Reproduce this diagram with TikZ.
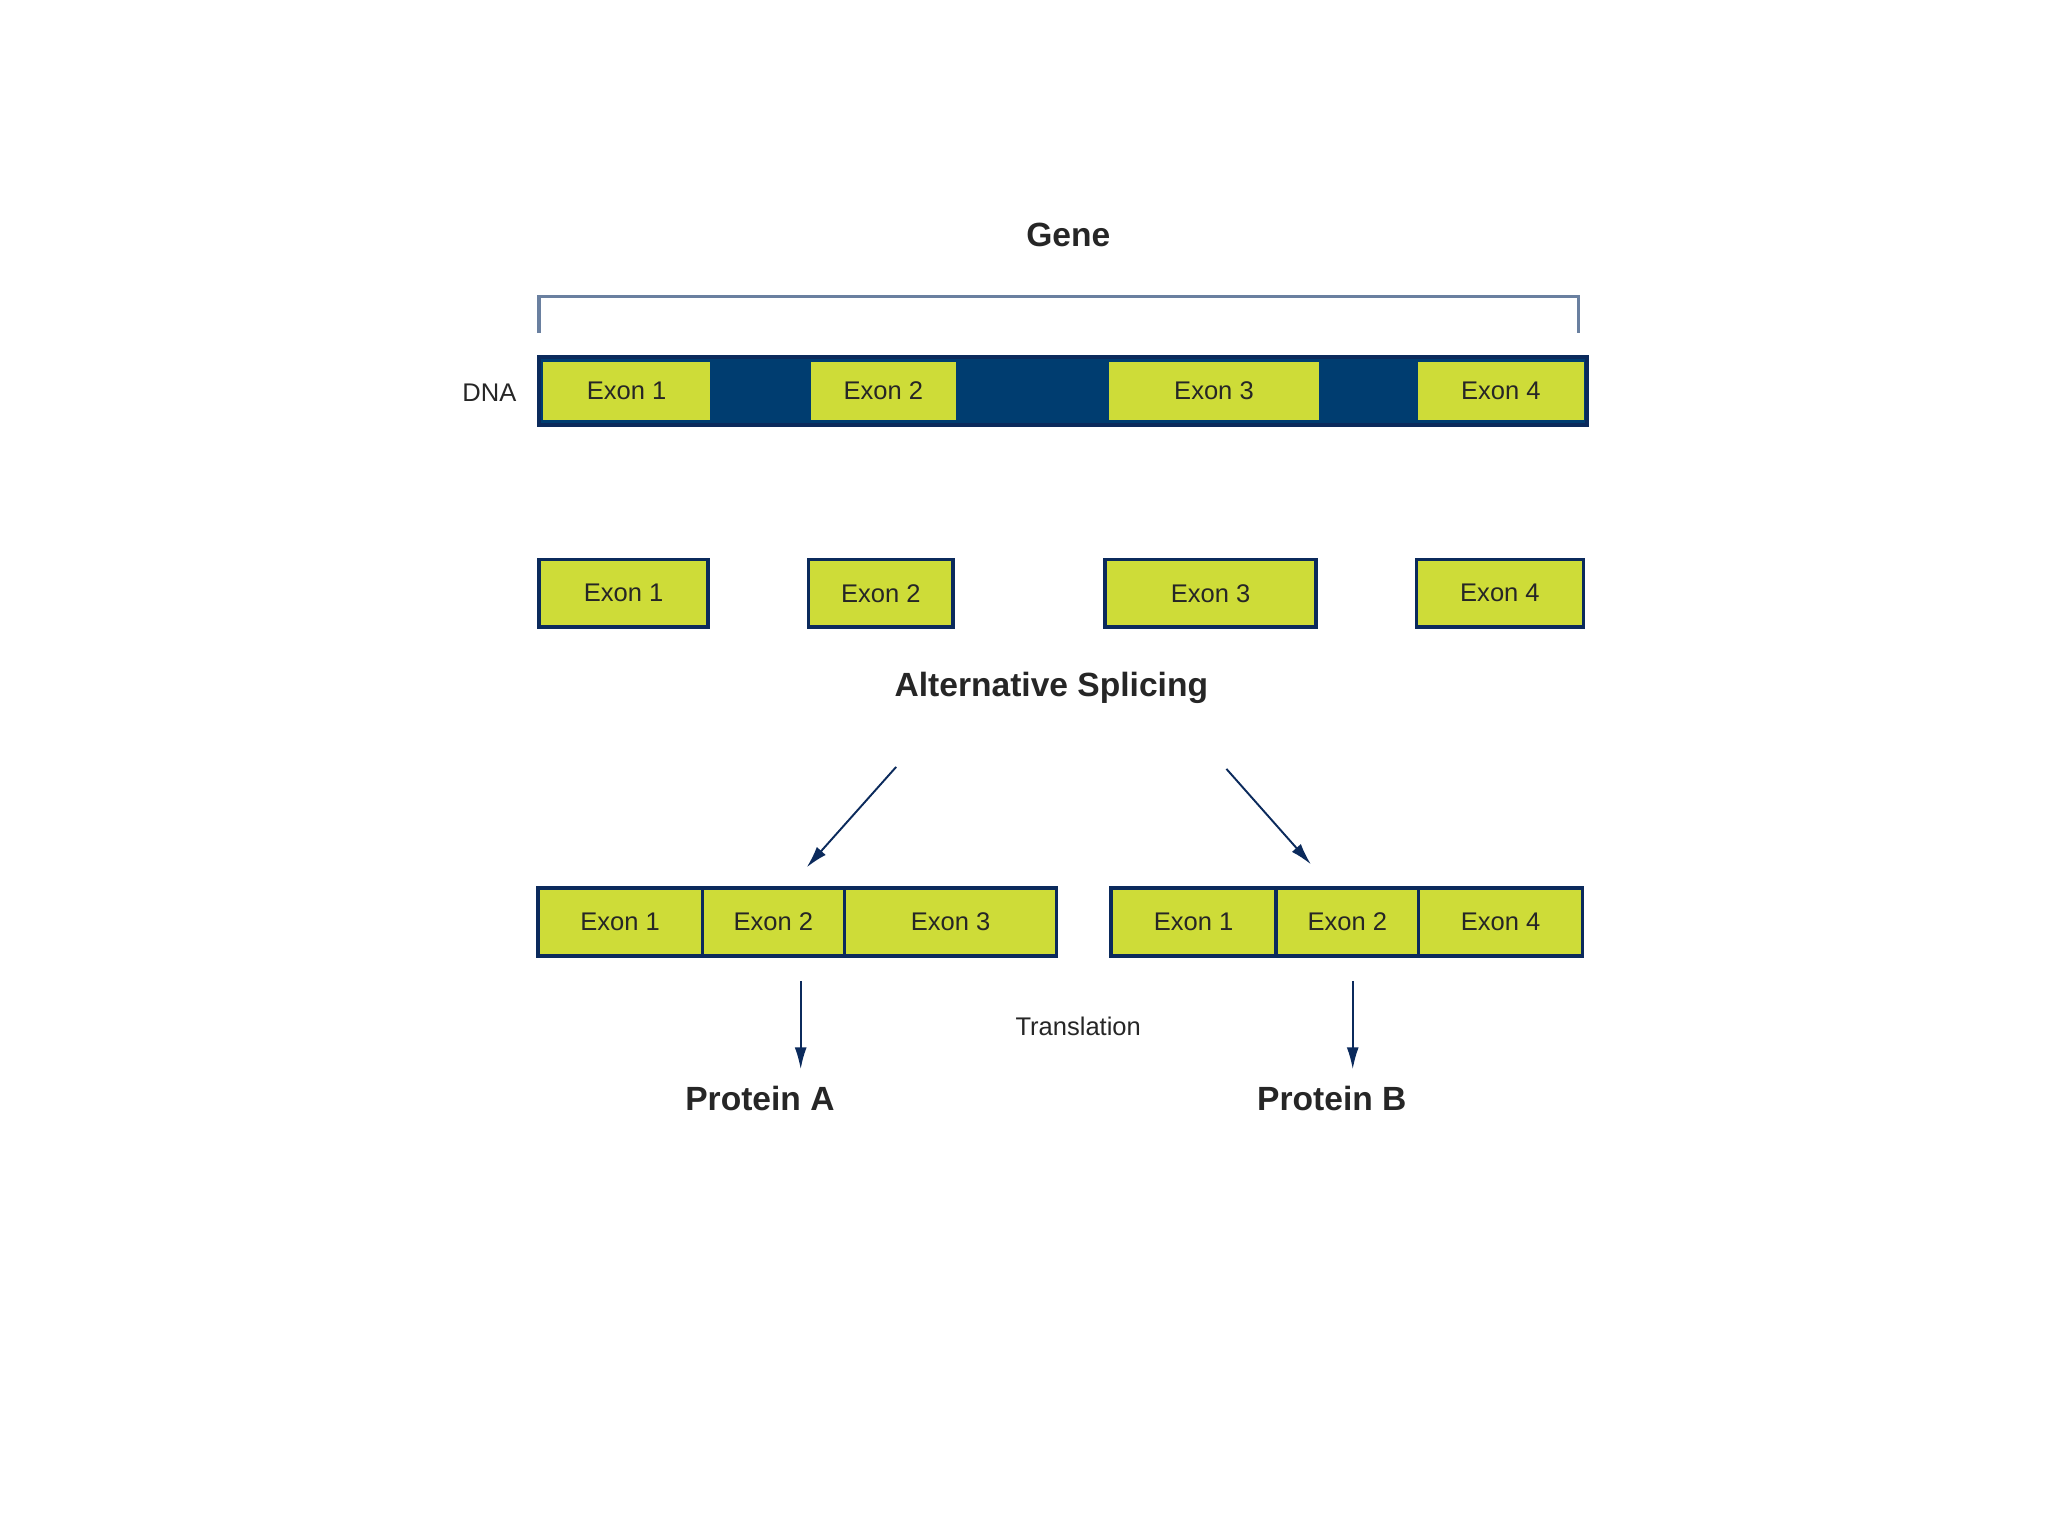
\documentclass[tikz,border=0pt]{standalone}
\usepackage{fontspec}
\setmainfont{Liberation Sans}
\usetikzlibrary{positioning,arrows.meta}
\definecolor{intron}{HTML}{003D70}
\definecolor{exonfill}{HTML}{CEDC38}
\definecolor{boxline}{HTML}{0B2A5C}
\definecolor{bracketcol}{HTML}{6A80A0}
\tikzset{
  exon/.style={draw=boxline, line width=1pt, fill=exonfill, outer sep=0pt,
    minimum height=0.68cm, inner sep=0pt, text=black!85,
    font=\fontsize{7.3}{8}\selectfont},
  inexon/.style={fill=exonfill, outer sep=0pt, minimum height=0.59cm,
    inner sep=0pt, text=black!85, font=\fontsize{7.3}{8}\selectfont},
  heading/.style={font=\fontsize{9.6}{11}\selectfont\bfseries, text=black!85},
  small/.style={font=\fontsize{7.3}{8}\selectfont, text=black!85},
  flow/.style={draw=boxline, line width=0.55pt, -{Latex[length=0.22cm,width=0.12cm]}}
}
\begin{document}
\begin{tikzpicture}[x=0.01cm,y=-0.01cm]
            \useasboundingbox (0,0) rectangle (2059,1544);
            % gene and bracket
            \node[heading] (gene) at (1074,236) {Gene};
            \draw[bracketcol, line width=1pt] (542,335) -- (542,298) -- (1587,298) -- (1587,335);
            % DNA strand
            \node[small] (dnalabel) at (492,395) {DNA};
            \node[draw=boxline, line width=1pt, fill=intron, minimum width=10.53cm,
                  minimum height=0.68cm, inner sep=0pt] (dna) at (1068.5,393) {};
            \node[inexon, minimum width=1.68cm] (d1) at (630,393) {Exon 1};
            \node[inexon, minimum width=1.46cm] (d2) at (888,393) {Exon 2};
            \node[inexon, minimum width=2.11cm] (d3) at (1220.5,393) {Exon 3};
            \node[inexon, minimum width=1.66cm] (d4) at (1509,393) {Exon 4};
            % separated exons
            \node[exon, minimum width=1.70cm] (e1) at (627,596.5) {Exon 1};
            \node[exon, minimum width=1.45cm] (e2) at (885.5,596.5) {Exon 2};
            \node[exon, minimum width=2.12cm] (e3) at (1217,596.5) {Exon 3};
            \node[exon, minimum width=1.68cm] (e4) at (1508,596.5) {Exon 4};
            \node[heading] (splice) at (1057,692) {Alternative Splicing};
            % spliced variants
            \node[exon, minimum width=1.65cm] (a1) at (623.5,927) {Exon 1};
            \node[exon, minimum width=1.43cm, right=0pt of a1] (a2) {Exon 2};
            \node[exon, minimum width=2.13cm, right=0pt of a2] (a3) {Exon 3};
            \node[exon, minimum width=1.66cm] (b1) at (1200,927) {Exon 1};
            \node[exon, minimum width=1.43cm, right=0pt of b1] (b2) {Exon 2};
            \node[exon, minimum width=1.65cm, right=0pt of b2] (b4) {Exon 4};
            \coordinate (sa) at (901,771);
            \coordinate (ta) at (811,872);
            \coordinate (sb) at (1233,773);
            \coordinate (tb) at (1318,869);
            \draw[flow] (sa) -- (ta);
            \draw[flow] (sb) -- (tb);
            % translation
            \node[small] (transl) at (1084,1032) {Translation};
            \node[heading] (protA) at (764,1104) {Protein A};
            \node[heading] (protB) at (1339,1104) {Protein B};
            \coordinate (pa) at (805,986);
            \coordinate (qa) at (805,1075);
            \coordinate (pb) at (1360,986);
            \coordinate (qb) at (1360,1075);
            \draw[flow] (pa) -- (qa);
            \draw[flow] (pb) -- (qb);
        \end{tikzpicture}
\end{document}
